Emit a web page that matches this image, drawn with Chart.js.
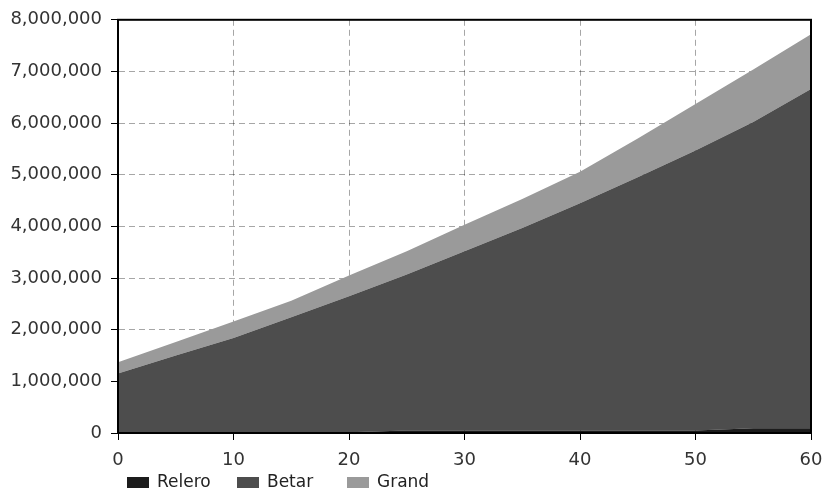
<!DOCTYPE html>
<html>
<head>
<meta charset="utf-8">
<script src="https://cdn.jsdelivr.net/npm/chart.js@4"></script>
<style>
  html, body { margin: 0; padding: 0; background: #fff; }
  #wrap { width: 824px; height: 492px; position: relative; }
</style>
</head>
<body>
<div id="wrap"><canvas id="chart-area"></canvas></div>
<script>
// x positions sampled every 5 units
const xValues = [0, 5, 10, 15, 20, 25, 30, 35, 40, 45, 50, 55, 60];
const releroValues = [15000, 15000, 15000, 15000, 15000, 50000, 50000, 50000, 50000, 50000, 50000, 90000, 90000];
const betarValues = [1135000, 1485000, 1825000, 2225000, 2635000, 3020000, 3470000, 3920000, 4400000, 4900000, 5420000, 5930000, 6570000];
const grandValues = [220000, 260000, 320000, 320000, 400000, 450000, 510000, 560000, 610000, 750000, 900000, 1020000, 1060000];
const seriesNames = ["Relero", "Betar", "Grand"];
const seriesColors = ["#1c1c1c", "#4d4d4d", "#9a9a9a"];

const toPoints = (vals) => vals.map((v, i) => ({ x: xValues[i], y: v }));

// simple legend drawn under the plot, left aligned like the original
const bottomLegend = {
    id: "bottomLegend",
    afterDraw(chart) {
        const ctx = chart.ctx;
        ctx.save();
        ctx.font = "17px 'DejaVu Sans'";
        ctx.textBaseline = "middle";
        chart.data.datasets.forEach((ds, i) => {
            const x = 127 + i * 110;
            ctx.fillStyle = ds.backgroundColor;
            ctx.fillRect(x, 477, 22, 11);
            ctx.fillStyle = "#222";
            ctx.fillText(ds.label, x + 30, 483);
        });
        ctx.restore();
    }
};

// thin frame on top and right
const frame = {
    id: "frame",
    afterDraw(chart) {
        const a = chart.chartArea;
        const ctx = chart.ctx;
        ctx.save();
        ctx.strokeStyle = "#000";
        ctx.lineWidth = 2;
        ctx.strokeRect(a.left, a.top, a.right - a.left, a.bottom - a.top);
        ctx.restore();
    }
};

const datasets = [releroValues, betarValues, grandValues].map((vals, i) => ({
    label: seriesNames[i],
    data: toPoints(vals),
    backgroundColor: seriesColors[i],
    borderWidth: 0,
    pointRadius: 0,
    tension: 0,
    fill: i === 0 ? "origin" : "-1"
}));

const gridOpts = {
    color: "rgba(0,0,0,0.35)",
    lineWidth: 1,
    tickColor: "#000",
    tickLength: 7,
    tickBorderDash: [],
    tickWidth: 1
};

new Chart(document.getElementById("chart-area").getContext("2d"), {
    type: "line",
    data: { datasets },
    options: {
        responsive: true,
        maintainAspectRatio: false,
        animation: false,
        layout: { padding: { top: 17, right: 0, bottom: 20, left: 0 } },
        plugins: { legend: { display: false }, tooltip: { enabled: false } },
        scales: {
            x: {
                type: "linear",
                min: 0,
                max: 60,
                z: 1,
                grid: gridOpts,
                border: { display: true, color: "#000", width: 2, dash: [6, 4] },
                ticks: { stepSize: 10, padding: 10, color: "#333", font: { family: "DejaVu Sans", size: 18 } },
                afterFit(s) { s.height = 39; s.paddingRight = 13; s.paddingLeft = 0; }
            },
            y: {
                stacked: true,
                min: 0,
                max: 8000000,
                z: 1,
                grid: gridOpts,
                border: { display: true, color: "#000", width: 2, dash: [6, 4] },
                ticks: {
                    stepSize: 1000000,
                    padding: 9,
                    color: "#333",
                    font: { family: "DejaVu Sans", size: 18 },
                    callback: (v) => v.toLocaleString("en-US")
                },
                afterFit(s) { s.width = 118; }
            }
        }
    },
    plugins: [frame, bottomLegend]
});
</script>
</body>
</html>
